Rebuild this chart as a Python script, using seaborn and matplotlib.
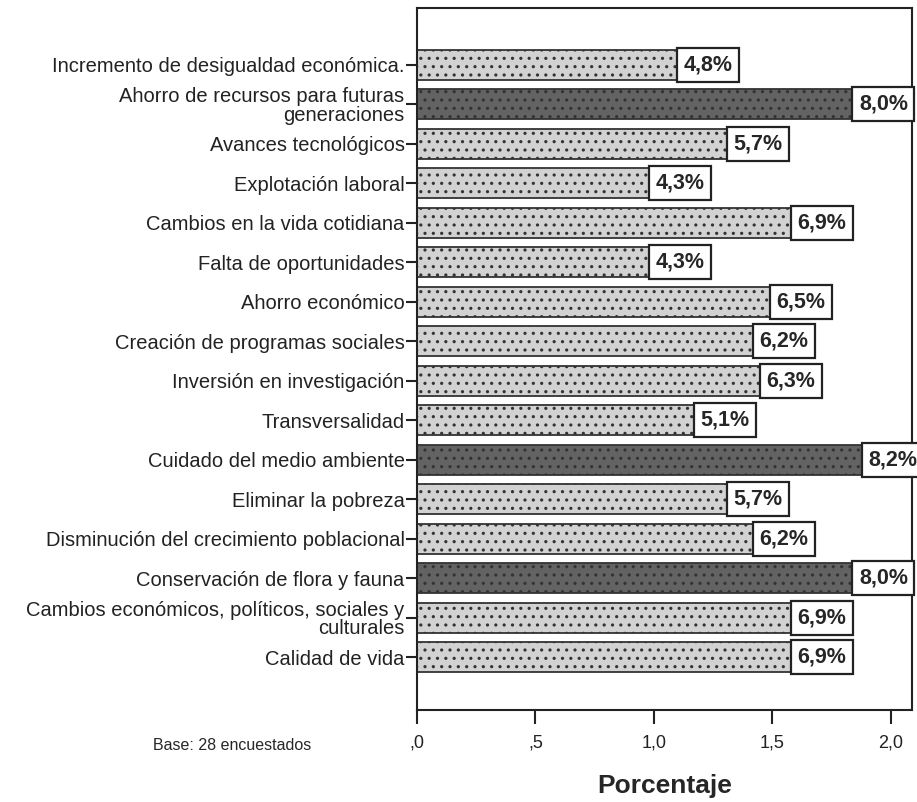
import matplotlib
matplotlib.use("Agg")
import matplotlib.pyplot as plt
import seaborn as sns
import pandas as pd

categories = [
    "Incremento de desigualdad económica.",
    "Ahorro de recursos para futuras\ngeneraciones",
    "Avances tecnológicos",
    "Explotación laboral",
    "Cambios en la vida cotidiana",
    "Falta de oportunidades",
    "Ahorro económico",
    "Creación de programas sociales",
    "Inversión en investigación",
    "Transversalidad",
    "Cuidado del medio ambiente",
    "Eliminar la pobreza",
    "Disminución del crecimiento poblacional",
    "Conservación de flora y fauna",
    "Cambios económicos, políticos, sociales y\nculturales",
    "Calidad de vida",
]
values = [1.11, 1.85, 1.32, 0.99, 1.59, 0.99, 1.50, 1.43, 1.46, 1.18, 1.89, 1.32, 1.43, 1.85, 1.59, 1.59]
pct_labels = ["4,8%", "8,0%", "5,7%", "4,3%", "6,9%", "4,3%", "6,5%", "6,2%", "6,3%", "5,1%",
              "8,2%", "5,7%", "6,2%", "8,0%", "6,9%", "6,9%"]
highlight = [False, True, False, False, False, False, False, False, False, False,
             True, False, False, True, False, False]
xticks = [0.0, 0.5, 1.0, 1.5, 2.0]
xtick_labels = [",0", ",5", "1,0", "1,5", "2,0"]

sns.set_style("white")
plt.rcParams["font.family"] = ["Liberation Sans", "DejaVu Sans"]
plt.rcParams["hatch.linewidth"] = 1.1

df = pd.DataFrame({"cat": categories, "val": values})
light = "#d2d2d2"
dark = "#636363"
palette = {c: (dark if h else light) for c, h in zip(categories, highlight)}

fig = plt.figure(figsize=(9.17, 8.02), dpi=100)
ax = fig.add_axes([417 / 917, 1 - 710 / 802, (912 - 417) / 917, (710 - 8) / 802])

sns.barplot(data=df, x="val", y="cat", hue="cat", palette=palette, orient="h",
            width=0.76, legend=False, ax=ax, saturation=1)

for p in ax.patches:
    p.set_hatch("..")
    p.set_edgecolor("#333333")
    p.set_linewidth(1.3)

for i, (v, lab) in enumerate(zip(values, pct_labels)):
    ax.text(v + 0.016, i, lab, ha="left", va="center", fontsize=15.5, fontweight="bold",
            family=["Liberation Sans Narrow", "Liberation Sans", "DejaVu Sans"],
            bbox=dict(boxstyle="square,pad=0.3", fc="white", ec="#222222", lw=1.6),
            clip_on=False, zorder=5)

ax.set_xlim(0, 2.09)
ax.set_ylim(16.34, -1.44)
ax.set_xticks(xticks)
ax.set_xticklabels(xtick_labels, fontsize=13)
ax.tick_params(axis="x", bottom=True, direction="out", length=10, width=1.5, pad=8,
               color="#222222", labelcolor="#222222")
ax.tick_params(axis="y", left=True, direction="out", length=8, width=1.5, pad=1,
               color="#222222", labelcolor="#222222", labelsize=14.5)
for lbl in ax.get_yticklabels():
    lbl.set_multialignment("right")
    lbl.set_linespacing(0.95)
ax.set_ylabel("")
ax.set_xlabel("Porcentaje", fontsize=19, fontweight="bold", labelpad=16)
for s in ax.spines.values():
    s.set_visible(True)
    s.set_color("#222222")
    s.set_linewidth(1.5)

fig.text(232 / 917, 1 - 745 / 802, "Base: 28 encuestados", ha="center", va="center", fontsize=11.5)

fig.savefig("out.png", dpi=100, facecolor="white")
